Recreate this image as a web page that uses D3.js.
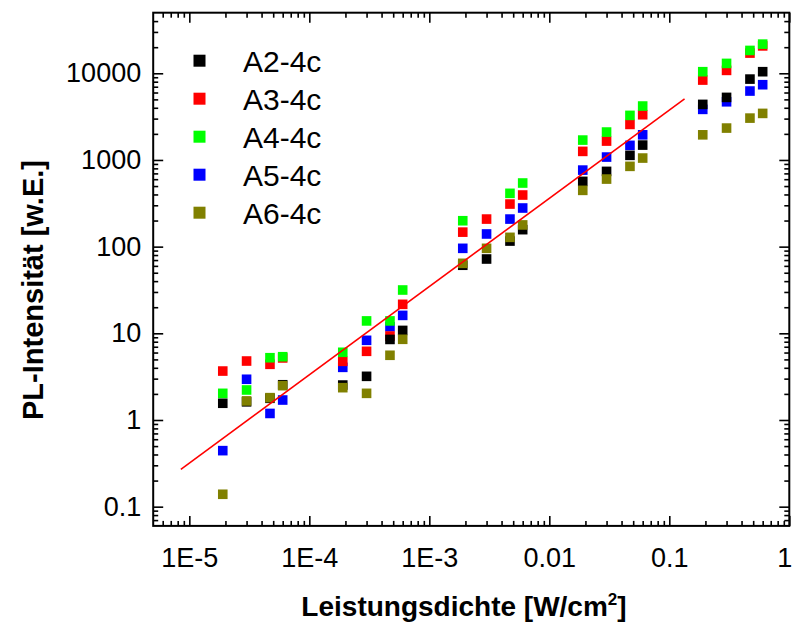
<!DOCTYPE html>
<html>
<head>
<meta charset="utf-8">
<script src="https://cdn.jsdelivr.net/npm/d3@7"></script>
<style>
  body { margin: 0; background: #fff; }
  text { font-family: "Liberation Sans", Arial, sans-serif; }
</style>
</head>
<body>
<div id="chart"></div>
<script>
// power density [W/cm2]
var power = [1.9e-5, 3e-5, 4.7e-5, 6e-5, 1.9e-4, 3e-4, 4.7e-4, 6e-4,
  1.9e-3, 3e-3, 4.7e-3, 6e-3, 0.019, 0.03, 0.047, 0.06, 0.19, 0.3, 0.47, 0.6];

// PL intensity per sample
var a2 = [1.56, 1.62, 1.78, 2.55, 2.53, 3.19, 8.5, 10.8, 61, 72, 116, 157,
  566, 738, 1130, 1485, 4376, 5270, 8570, 10430];
var a3 = [3.67, 4.79, 4.39, 5.2, 4.75, 6.2, 9.3, 21.6, 147, 208, 310, 394,
  1256, 1652, 2570, 3325, 8350, 10800, 17100, 20700];
var a4 = [2.03, 2.22, 5.23, 5.37, 6.04, 13.9, 13.9, 31.6, 199, null, 412, 542,
  1696, 2099, 3268, 4189, 10430, 13000, 18350, 21700];
var a5 = [0.443, 2.95, 1.19, 1.70, 4.05, 8.3, 11.9, 16.1, 95.6, 140, 208, 279,
  764, 1080, 1474, 1950, 3834, 4690, 6240, 7380];
var a6 = [0.139, 1.66, 1.81, 2.49, 2.36, 2.03, 5.58, 8.53, 64.2, 95.6, 128, 178,
  446, 602, 844, 1052, 1950, 2333, 3040, 3445];

var names = ["A2-4c", "A3-4c", "A4-4c", "A5-4c", "A6-4c"];
var colors = ["#000000", "#ff0000", "#00ff00", "#0000ff", "#808000"];
var seriesVals = [a2, a3, a4, a5, a6];
// order the squares are painted in
var drawOrder = [3, 1, 0, 2, 4];

// linear fit (log-log), end points
var fitX = [8.5e-6, 0.134];
var fitY = [0.27, 5080];

var xTicks = [1e-5, 1e-4, 1e-3, 0.01, 0.1, 1];
var xTickLabels = ["1E-5", "1E-4", "1E-3", "0.01", "0.1", "1"];
var yTicks = [0.1, 1, 10, 100, 1000, 10000];
var yTickLabels = ["0.1", "1", "10", "100", "1000", "10000"];

var width = 792, height = 623;
var pLeft = 153.2, pRight = 789.3, pTop = 12.7, pBottom = 525.9;

var svg = d3.select("#chart").append("svg")
  .attr("width", width)
  .attr("height", height);

var x = d3.scaleLog().domain([5e-6, 1]).range([pLeft, pRight]);
var y = d3.scaleLog().domain([0.06, 50000]).range([pBottom, pTop]);

function minors(scale) {
  var d = scale.domain(), out = [];
  for (var e = -7; e <= 6; e++) {
    for (var m = 2; m <= 9; m++) {
      var v = m * Math.pow(10, e);
      if (v > d[0] && v < d[1]) out.push(v);
    }
  }
  return out;
}

function styleAxis(g) {
  g.select(".domain").remove();
  g.selectAll("line").attr("stroke", "#000").attr("stroke-width", 1.6);
  g.selectAll("text").attr("font-size", 27).attr("fill", "#000");
}

// major + minor ticks on all four sides, pointing inward
var sides = [
  [d3.axisBottom, pBottom, "x"], [d3.axisTop, pTop, "x"],
  [d3.axisLeft, pLeft, "y"], [d3.axisRight, pRight, "y"]
];
sides.forEach(function (s, i) {
  var scale = s[2] === "x" ? x : y;
  var majorTicks = s[2] === "x" ? xTicks : yTicks;
  var labels = s[2] === "x" ? xTickLabels : yTickLabels;
  var tr = s[2] === "x" ? "translate(0," + s[1] + ")" : "translate(" + s[1] + ",0)";

  var major = s[0](scale).tickValues(majorTicks).tickSizeInner(-10).tickSizeOuter(0)
    .tickPadding(i === 0 ? 22 : 12)
    .tickFormat(function (d, k) { return (i === 0 || i === 2) ? labels[k] : ""; });
  var g = svg.append("g").attr("transform", tr).call(major).call(styleAxis);
  if (i === 0) {
    // last label sits at the page edge
    g.selectAll(".tick text").filter(function (d) { return d === 1; })
      .attr("text-anchor", "end").attr("x", 2.5);
  }

  var minor = s[0](scale).tickValues(minors(scale)).tickSizeInner(-5)
    .tickSizeOuter(0).tickFormat("");
  svg.append("g").attr("transform", tr).call(minor).call(styleAxis);
});

// frame
svg.append("rect")
  .attr("x", pLeft).attr("y", pTop)
  .attr("width", pRight - pLeft).attr("height", pBottom - pTop)
  .attr("fill", "none").attr("stroke", "#000").attr("stroke-width", 2);

// data squares
var sq = 9.6;
drawOrder.forEach(function (si) {
  var pts = power.map(function (p, k) { return { x: p, y: seriesVals[si][k] }; })
    .filter(function (d) { return d.y != null; });
  svg.append("g").selectAll("rect").data(pts).enter().append("rect")
    .attr("x", function (d) { return x(d.x) - sq / 2; })
    .attr("y", function (d) { return y(d.y) - sq / 2; })
    .attr("width", sq).attr("height", sq)
    .attr("fill", colors[si]);
});

// fit line
var line = d3.line()
  .x(function (d) { return x(d[0]); })
  .y(function (d) { return y(d[1]); });
svg.append("path")
  .attr("d", line(d3.zip(fitX, fitY)))
  .attr("fill", "none").attr("stroke", "#ff0000").attr("stroke-width", 1.6);

// legend
names.forEach(function (n, i) {
  var cy = 60.7 + i * 38;
  svg.append("rect")
    .attr("x", 193.5).attr("y", cy - 6)
    .attr("width", 12).attr("height", 12)
    .attr("fill", colors[i]);
  svg.append("text")
    .attr("x", 243).attr("y", cy + 11)
    .attr("font-size", 30)
    .text(n);
});

// axis titles
var xt = svg.append("text")
  .attr("x", 464).attr("y", 616)
  .attr("text-anchor", "middle")
  .attr("font-size", 28).attr("font-weight", "bold");
xt.append("tspan").text("Leistungsdichte [W/cm");
xt.append("tspan").attr("font-size", 17).attr("dy", -11).text("2");
xt.append("tspan").attr("dy", 11).text("]");

svg.append("text")
  .attr("transform", "translate(43,290) rotate(-90)")
  .attr("text-anchor", "middle")
  .attr("font-size", 29).attr("font-weight", "bold")
  .text("PL-Intensität [w.E.]");
</script>
</body>
</html>
